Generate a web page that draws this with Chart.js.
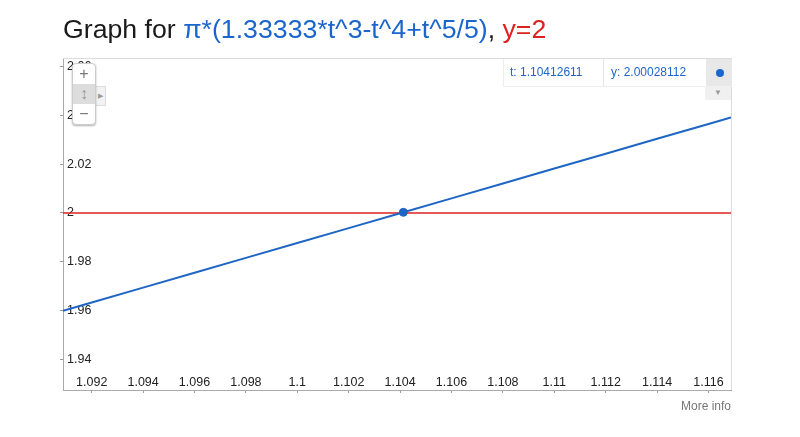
<!DOCTYPE html>
<html><head><meta charset="utf-8">
<script src="https://cdn.jsdelivr.net/npm/chart.js@4.4.1/dist/chart.umd.min.js"></script>
<style>
html,body{margin:0;padding:0;background:#fff;width:800px;height:437px;overflow:hidden;font-family:"Liberation Sans",Arial,sans-serif;}
#wrap{position:relative;width:800px;height:437px;}
#c{position:absolute;left:0;top:0;}
#title{position:absolute;left:63px;top:14px;font-size:26.7px;color:#1a1a1a;white-space:nowrap;}
#title .b{color:#1a66cc;} #title .r{color:#dd2222;}
#more{position:absolute;right:69px;top:399px;font-size:12px;color:#777;}
#tip{position:absolute;left:503px;top:59px;height:27px;width:228px;background:#fff;border-bottom:1px solid #eee;border-left:1px solid #eee;font-size:12px;color:#1a66cc;}
#tip .cell{position:absolute;top:0;height:27px;line-height:27px;}
#tip .t{left:0;width:100px;padding-left:6px;box-sizing:border-box;border-right:1px solid #e6e6e6;}
#tip .y{left:101px;width:101px;padding-left:6px;box-sizing:border-box;}
#tip .d{left:202px;width:26px;background:#e8e8e8;}
#tip .d span{position:absolute;left:10px;top:10px;width:8px;height:8px;border-radius:50%;background:#1a66cc;}
#arr{position:absolute;left:705px;top:86px;width:26px;height:14px;background:#f0f0f0;color:#999;font-size:8px;text-align:center;line-height:14px;}
#zoom{position:absolute;left:72px;top:63px;width:22px;height:60px;background:#fff;border:1px solid #ccc;border-radius:4px;box-shadow:0 1px 2px rgba(0,0,0,0.3);font-size:16px;color:#777;text-align:center;}
#zoom div{height:20px;line-height:20px;}
#zoom .m{background:#ddd;color:#999;}
#tab{position:absolute;left:95px;top:86px;width:10px;height:18px;background:#f2f2f2;border:1px solid #ddd;border-left:none;color:#999;font-size:7px;line-height:18px;text-align:center;}
</style></head>
<body><div id="wrap">
<canvas id="c" width="800" height="437"></canvas>
<div id="title">Graph for <span class="b">π*(1.33333*t^3-t^4+t^5/5)</span>, <span class="r">y=2</span></div>
<div id="tab">&#9654;</div>
<div id="zoom"><div>+</div><div class="m">&#8597;</div><div>&minus;</div></div>
<div id="tip"><div class="cell t">t: 1.10412611</div><div class="cell y">y: 2.00028112</div><div class="cell d"><span></span></div></div>
<div id="arr">&#9660;</div>
<div id="more">More info</div>
</div>
<script>
const tValues = [1.090883, 1.092, 1.094, 1.096, 1.098, 1.1, 1.102, 1.104, 1.106, 1.108, 1.11, 1.112, 1.114, 1.116, 1.116875];
const curveValues = [1.95989, 1.96330, 1.96940, 1.97550, 1.98160, 1.98770, 1.99380, 1.99990, 2.00600, 2.01210, 2.01820, 2.02430, 2.03040, 2.03650, 2.03916];
const lineY = 2;
const pointT = 1.10412611, pointY = 2.00028112;
const xTicks = [1.092,1.094,1.096,1.098,1.1,1.102,1.104,1.106,1.108,1.11,1.112,1.114,1.116];
const yTicks = [1.94,1.96,1.98,2,2.02,2.04,2.06];
const xMin = 1.090883, xMax = 1.116875, yMin = 1.92746, yMax = 2.06352;

const frame = {
  id:'frame',
  beforeDatasetsDraw(ch){
    const a = ch.chartArea, c = ch.ctx;
    c.save();
    c.strokeStyle = '#dcdcdc'; c.lineWidth = 1;
    c.beginPath();
    c.moveTo(a.left, a.top+0.5); c.lineTo(a.right+0.5, a.top+0.5); c.lineTo(a.right+0.5, a.bottom);
    c.stroke();
    c.restore();
  }
};

new Chart(document.getElementById('c'), {
  type:'line',
  data:{datasets:[
    {data: tValues.map((t,i)=>({x:t,y:curveValues[i]})), borderColor:'#1f66c4', borderWidth:2, pointRadius:0, tension:0, order:1},
    {data: [{x:xMin,y:lineY},{x:xMax,y:lineY}], borderColor:'#dd2222', borderWidth:1.5, pointRadius:0, order:2},
    {data: [{x:pointT,y:pointY}], borderColor:'#1f66c4', backgroundColor:'#1f66c4', pointRadius:4, showLine:false, order:0}
  ]},
  plugins:[frame],
  options:{
    responsive:false, animation:false, events:[],
    layout:{padding:{left:63, top:58, right:69, bottom:47}},
    plugins:{legend:{display:false}, tooltip:{enabled:false}},
    scales:{
      x:{type:'linear', min:xMin, max:xMax,
        afterFit(s){s.height=0;},
        afterBuildTicks(s){s.ticks = xTicks.map(v=>({value:v}));},
        ticks:{mirror:true, padding:0, color:'#222', font:{family:'Liberation Sans', size:12.5}, callback:v=>String(+v.toFixed(3)), maxRotation:0, autoSkip:false},
        grid:{drawOnChartArea:false, drawTicks:true, tickLength:3, color:'#999'},
        border:{display:true, color:'#aaa', width:1}
      },
      y:{type:'linear', min:yMin, max:yMax,
        afterFit(s){s.width=0;},
        afterBuildTicks(s){s.ticks = yTicks.map(v=>({value:v}));},
        ticks:{mirror:true, padding:4, color:'#222', font:{family:'Liberation Sans', size:12.5}, callback:v=>String(+v.toFixed(2)), autoSkip:false},
        grid:{drawOnChartArea:false, drawTicks:true, tickLength:3, color:'#999'},
        border:{display:true, color:'#aaa', width:1}
      }
    }
  }
});
</script>
</body></html>
